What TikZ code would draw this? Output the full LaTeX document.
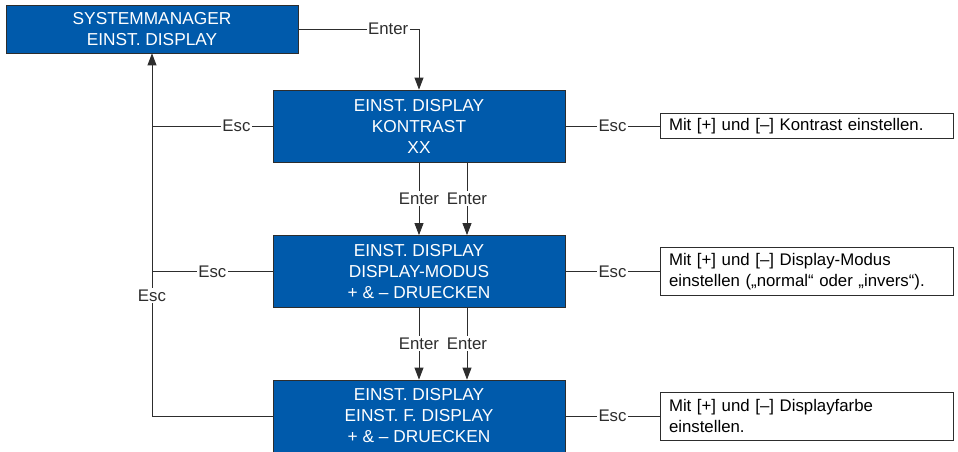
\documentclass[tikz,border=0pt]{standalone}
\usepackage{fontspec}
\setmainfont{Liberation Sans}
\usetikzlibrary{arrows.meta}
\definecolor{menublue}{RGB}{0,90,171}
\definecolor{linegray}{RGB}{45,45,45}

\begin{document}
\begin{tikzpicture}[x=1pt,y=-1pt,
  font=\fontsize{16.8}{21}\selectfont,
  menu/.style={rectangle,draw=linegray,line width=0.8pt,fill=menublue,text=white,align=center,font=\fontsize{17.3}{21}\selectfont,minimum width=292pt,minimum height=72pt,inner sep=0pt},
  hint/.style={rectangle,draw=linegray,line width=0.8pt,fill=white,align=left,text width=275pt,inner xsep=9pt,inner ysep=0pt,minimum width=293pt},
  key/.style={fill=white,inner sep=1.5pt,text=linegray},
  conn/.style={draw=linegray,line width=0.8pt},
  arr/.style={conn,-{Triangle[length=12pt,width=9pt]}}]
\useasboundingbox (0,0) rectangle (958,452);

\node[menu,minimum height=48pt] (sys) at (152,29) {SYSTEMMANAGER\\EINST. DISPLAY};
\node[menu] (kon) at (419,126) {EINST. DISPLAY\\KONTRAST\\XX};
\node[menu] (mod) at (419,271.5) {EINST. DISPLAY\\DISPLAY-MODUS\\+ \& – DRUECKEN};
\node[menu] (farb) at (419,416) {EINST. DISPLAY\\EINST. F. DISPLAY\\+ \& – DRUECKEN};

\node[hint,minimum height=25pt] (tkon) at (806.5,126) {Mit [+] und [–] Kontrast einstellen.};
\node[hint,minimum height=48pt] (tmod) at (806.5,271.5) {Mit [+] und [–] Display-Modus\\einstellen („normal“ oder „invers“).};
\node[hint,minimum height=48pt] (tfarb) at (806.5,416) {Mit [+] und [–] Displayfarbe\\einstellen.};

\draw[arr] (sys) -| node[key,pos=0.372] {Enter} (kon);

\draw[arr] (kon) -- node[key] {Enter} (mod);
\draw[arr] ([xshift=48pt]kon.south) -- node[key] {Enter} ([xshift=48pt]mod.north);
\draw[arr] (mod) -- node[key] {Enter} (farb);
\draw[arr] ([xshift=48pt]mod.south) -- node[key] {Enter} ([xshift=48pt]farb.north);

\draw[arr] (farb) -| node[key,pos=0.666] {Esc} (sys);
\draw[conn] (kon) -- node[key,pos=0.3] {Esc} (kon -| sys);
\draw[conn] (mod) -- node[key] {Esc} (mod -| sys);

\draw[conn] (kon) -- node[key] {Esc} (tkon);
\draw[conn] (mod) -- node[key] {Esc} (tmod);
\draw[conn] (farb) -- node[key] {Esc} (tfarb);
\end{tikzpicture}
\end{document}
